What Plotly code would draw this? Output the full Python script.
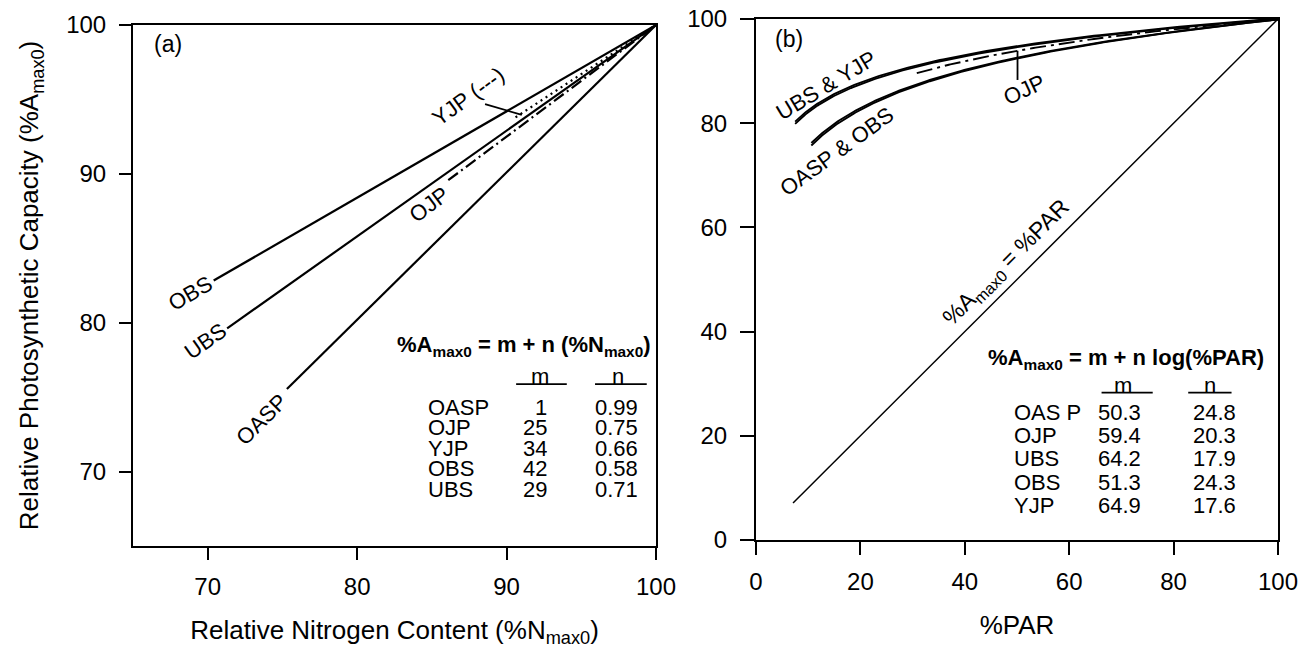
import numpy as np
import plotly.graph_objects as go

# ---------------- data ----------------
# Panel (a): %Amax0 = m + n (%Nmax0)
species_a = ["OASP", "OJP", "YJP", "OBS", "UBS"]
m_a = [1, 25, 34, 42, 29]
n_a = [0.99, 0.75, 0.66, 0.58, 0.71]
start_a = [75.3, 86.1, 90.6, 70.4, 71.3]     # %Nmax0 where each line begins
ticks_a = [70, 80, 90, 100]

# Panel (b): %Amax0 = m + n log(%PAR)
species_b = ["OAS P", "OJP", "UBS", "OBS", "YJP"]
m_b = [50.3, 59.4, 64.2, 51.3, 64.9]
n_b = [24.8, 20.3, 17.9, 24.3, 17.6]
start_b = [10.6, 30.8, 7.5, 10.6, 7.5]       # %PAR where each curve begins
ticks_b = [0, 20, 40, 60, 80, 100]
one_to_one = [7.1, 100]                       # %Amax0 = %PAR reference line

# ---------------- styling ----------------
FONT = "Liberation Sans, Arial, Helvetica, sans-serif"
dash_a = {"OASP": "solid", "OJP": "12px,4px,2px,4px", "YJP": "2px,4px",
          "OBS": "solid", "UBS": "solid"}
dash_b = {"OAS P": "solid", "OJP": "16px,5px,3px,5px", "UBS": "solid",
          "OBS": "solid", "YJP": "solid"}

fig = go.Figure()

for name, m, n, s in zip(species_a, m_a, n_a, start_a):
    xs = np.array([s, 100.0])
    fig.add_trace(go.Scatter(x=xs, y=m + n * xs, mode="lines", name=name,
                             line=dict(color="black", width=2.2, dash=dash_a[name]),
                             xaxis="x", yaxis="y", hoverinfo="skip"))

for name, m, n, s in zip(species_b, m_b, n_b, start_b):
    xs = np.geomspace(s, 100.0, 150)
    fig.add_trace(go.Scatter(x=xs, y=m + n * np.log10(xs), mode="lines", name=name,
                             line=dict(color="black", width=1.9, dash=dash_b[name]),
                             xaxis="x2", yaxis="y2", hoverinfo="skip"))

fig.add_trace(go.Scatter(x=one_to_one, y=one_to_one, mode="lines", name="1:1",
                         line=dict(color="black", width=1.5),
                         xaxis="x2", yaxis="y2", hoverinfo="skip"))

axis_common = dict(showline=True, linecolor="black", linewidth=2, mirror=True,
                   ticks="outside", ticklen=12, tickwidth=2, tickcolor="black",
                   showgrid=False, zeroline=False, automargin=False,
                   tickfont=dict(size=24, family=FONT, color="black"))

W, H = 1302, 649
def dx(a, b):
    return [a / W, b / W]
def dy(top, bottom):
    return [1 - bottom / H, 1 - top / H]

fig.update_layout(
    width=W, height=H, margin=dict(l=0, r=0, t=0, b=0),
    paper_bgcolor="white", plot_bgcolor="white", showlegend=False,
    font=dict(family=FONT, color="black", size=22),
    xaxis=dict(axis_common, domain=dx(133, 656), range=[65, 100], tickvals=ticks_a,
               anchor="y", ticklabelstandoff=6,
               title=dict(text="Relative Nitrogen Content (%N<sub>max0</sub>)",
                          font=dict(size=26), standoff=22)),
    yaxis=dict(axis_common, domain=dy(25, 546), range=[65, 100], tickvals=ticks_a,
               anchor="x", ticklabelstandoff=8,
               title=dict(text="Relative Photosynthetic Capacity (%A<sub>max0</sub>)",
                          font=dict(size=26), standoff=20)),
    xaxis2=dict(axis_common, domain=dx(756, 1278), range=[0, 100], tickvals=ticks_b,
                anchor="y2", ticklen=13, ticklabelstandoff=6,
                title=dict(text="%PAR", font=dict(size=26), standoff=22)),
    yaxis2=dict(axis_common, domain=dy(19, 540), range=[0, 100], tickvals=ticks_b,
                anchor="x2", ticklen=14, ticklabelstandoff=8),
)

ann = []
def label(text, x, y, angle=0, ref="", size=22, xanchor="center", height=None):
    a = dict(text=text, x=x, y=y, xref="x" + ref, yref="y" + ref,
             showarrow=False, textangle=angle, xanchor=xanchor,
             yanchor="middle", borderpad=0,
             font=dict(size=size, family=FONT, color="black"))
    if height is not None:
        a["height"] = height
        a["valign"] = "middle"
    ann.append(a)

# panel (a) labels
label("(a)", 67.32, 98.72, size=23)
label("OBS", 68.82, 81.98, -30)
label("UBS", 69.82, 78.73, -35)
label("OASP", 73.61, 73.5, -45)
label("OJP", 84.83, 87.91, -37)
label("YJP (---)", 87.44, 95.19, -36)
label("<b>%A<sub>max0</sub> = m + n (%N<sub>max0</sub>)</b>", 91.18, 78.44)
label("m", 92.24, 76.39, height=19)
label("n", 97.49, 76.39, height=19)
row0_a, step_a = 74.33, -1.38
for i, (nm, m, n) in enumerate(zip(species_a, m_a, n_a)):
    yy = row0_a + i * step_a
    label(nm, 84.66, yy, xanchor="left", height=19)
    label(f"{m:d}", 92.8, yy, xanchor="right", height=19)
    label(f"{n:.2f}", 97.33, yy, height=19)

# panel (b) labels
label("(b)", 6.32, 96.07, ref="2", size=23)
label("UBS &amp; YJP", 13.4, 87.3, -31, ref="2")
label("OASP &amp; OBS", 15.5, 74.5, -36, ref="2")
label("OJP", 51.5, 86.4, -25, ref="2")
label("%A<sub>max0</sub> = %PAR", 47.9, 53.1, -45, ref="2", size=23)
label("<b>%A<sub>max0</sub> = m + n log(%PAR)</b>", 70.8, 34.74, ref="2")
label("m", 70.4, 29.75, ref="2", height=20)
label("n", 87.0, 29.75, ref="2", height=20)
row0_b, step_b = 24.6, -4.475
for i, (nm, m, n) in enumerate(zip(species_b, m_b, n_b)):
    yy = row0_b + i * step_b
    label(nm, 49.2, yy, ref="2", xanchor="left", height=20)
    label(f"{m:.1f}", 74.0, yy, ref="2", xanchor="right", height=20)
    label(f"{n:.1f}", 87.8, yy, ref="2", height=20)

fig.update_layout(annotations=ann)

# leader lines and header underlines
shp = [
    dict(type="line", xref="x", yref="y", x0=88.56, y0=94.69, x1=91.02, y1=93.96,
         line=dict(color="black", width=1.8)),
    dict(type="line", xref="x", yref="y", x0=90.64, y0=75.87, x1=94.03, y1=75.87,
         line=dict(color="black", width=1.8)),
    dict(type="line", xref="x", yref="y", x0=95.92, y0=75.87, x1=99.38, y1=75.87,
         line=dict(color="black", width=1.8)),
    dict(type="line", xref="x2", yref="y2", x0=50.1, y0=93.9, x1=50.1, y1=88.3,
         line=dict(color="black", width=1.8)),
    dict(type="line", xref="x2", yref="y2", x0=66.2, y0=28.27, x1=76.0, y1=28.27,
         line=dict(color="black", width=1.8)),
    dict(type="line", xref="x2", yref="y2", x0=82.8, y0=28.27, x1=91.1, y1=28.27,
         line=dict(color="black", width=1.8)),
]
fig.update_layout(shapes=shp)

fig.write_html("out.html")
